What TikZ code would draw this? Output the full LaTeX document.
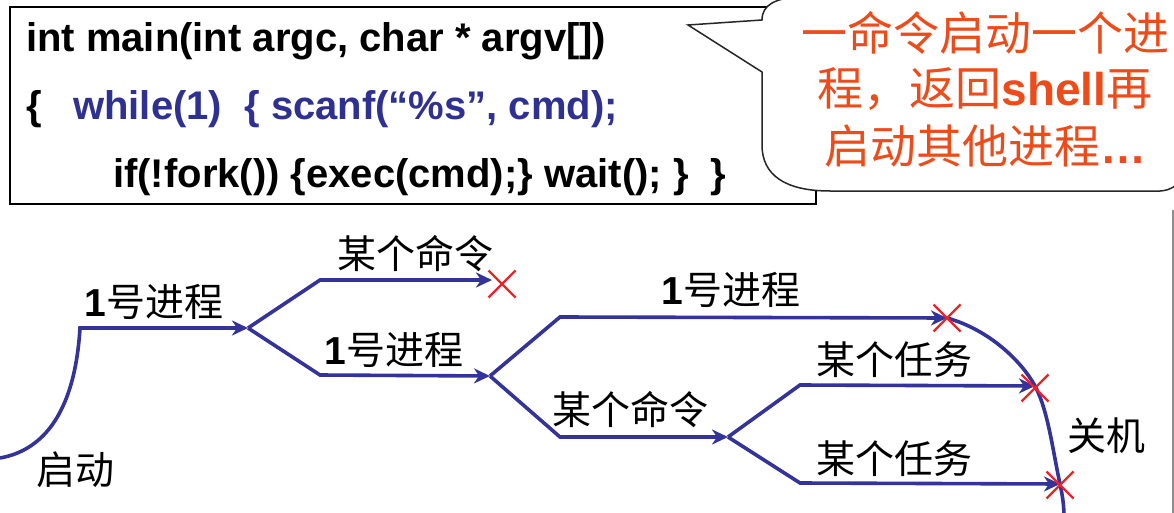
\documentclass[tikz,border=0pt]{standalone}
\usepackage{fontspec}
\setmainfont{Liberation Sans}
\newfontfamily\cjk{Noto Sans CJK SC}
\usetikzlibrary{arrows.meta,shapes.misc}
\definecolor{procblue}{HTML}{333399}
\definecolor{codeblue}{HTML}{2E3192}
\definecolor{xred}{HTML}{E8262A}
\definecolor{callred}{HTML}{EE4B1A}
\begin{document}
\begin{tikzpicture}[x=1pt,y=-1pt,
  procline/.style={draw=procblue, line width=3.6pt},
  proc/.style={procline, -{Stealth[length=16pt,width=15pt,inset=5pt]}},
  lab/.style={font=\cjk\fontsize{39}{39}\selectfont, inner sep=0},
  code/.style={font=\bfseries\fontsize{40}{40}\selectfont, inner sep=0, anchor=base west},
  call/.style={font=\cjk\fontsize{46}{46}\selectfont, text=callred, inner sep=0},
  xmark/.style={cross out, draw=xred, line width=2.2pt, minimum size=27pt, inner sep=0pt, outer sep=0pt}]
\useasboundingbox (0,0) rectangle (1174,513);
\fill[white] (0,0) rectangle (1174,513);
\clip (0,0) rectangle (1174,513);

% code box
\draw[line width=1.5pt] (10,7) rectangle (816,204);
\node[code] (c1) at (26,52) {int main(int argc, char * argv[])};
\node[code] (c2a) at (26,120) {\{};
\node[code, text=codeblue] (c2b) at (73,120) {while(1)\ \ \{ scanf(“\%s”, cmd);};
\node[code] (c3) at (113,188) {if(!fork()) \{exec(cmd);\} wait(); \}\ \ \}};

% callout
\draw[line width=1.5pt, draw=black!85, fill=white]
  (762,20) -- (688,25) -- (762,72) -- (762,145)
  .. controls (762,175) and (785,191) .. (830,191) -- (1160,191)
  .. controls (1170,190.5) and (1176,186) .. (1185,178) -- (1190,-5) -- (800,-3)
  .. controls (775,-2) and (762,5) .. cycle;
\node[call] (t1) at (985,33) {一命令启动一个进};
\node[call] (t2) at (985,89) {程，返回{\rmfamily\bfseries shell}再};
\node[call] (t3) at (985,146) {启动其他进程{\rmfamily\bfseries …}};

% slide edge
\draw[line width=1.5pt, draw=black!45] (1173,210) -- (1173,513);

% process tree coordinates
\coordinate (s0) at (0,458);
\coordinate (s1) at (80,328);
\coordinate (b1) at (248,328);
\coordinate (u1) at (320,280);
\coordinate (e1) at (492,280);
\coordinate (d1) at (320,375);
\coordinate (b2) at (490,376);
\coordinate (u2) at (560,317);
\coordinate (e2) at (947,318);
\coordinate (d2) at (560,437);
\coordinate (b3) at (728,437);
\coordinate (u3) at (800,385);
\coordinate (e3) at (1035,386);
\coordinate (d3) at (800,483);
\coordinate (e4) at (1060,484);
\coordinate (fin) at (1064,516);

\draw[proc] (s0) .. controls (45,450) and (75,410) .. (s1) -- (b1);
\draw[proc] (b1) -- (u1) -- (e1);
\draw[proc] (b1) -- (d1) -- (b2);
\draw[proc] (b2) -- (u2) -- (e2);
\draw[proc] (b2) -- (d2) -- (b3);
\draw[proc] (b3) -- (u3) -- (e3);
\draw[proc] (b3) -- (d3) -- (e4);
\draw[procline] (e2) .. controls (990,330) and (1022,362) .. (e3)
  .. controls (1048,410) and (1053,452) .. (e4)
  .. controls (1062,493) and (1064,505) .. (fin);

% X marks
\node[xmark] (x1) at (502,284) {};
\node[xmark] (x2) at (947,318) {};
\node[xmark] (x3) at (1035,388) {};
\node[xmark] (x4) at (1060,485) {};

% labels
\node[lab] (l1) at (154,302) {{\rmfamily\bfseries 1}号进程};
\node[lab] (l2) at (415,254) {某个命令};
\node[lab] (l3) at (394,350) {{\rmfamily\bfseries 1}号进程};
\node[lab] (l4) at (75,470) {启动};
\node[lab] (l5) at (731,290) {{\rmfamily\bfseries 1}号进程};
\node[lab] (l6) at (630,410) {某个命令};
\node[lab] (l7) at (894,360) {某个任务};
\node[lab] (l8) at (894,459) {某个任务};
\node[lab] (l9) at (1106,436) {关机};
\end{tikzpicture}
\end{document}
